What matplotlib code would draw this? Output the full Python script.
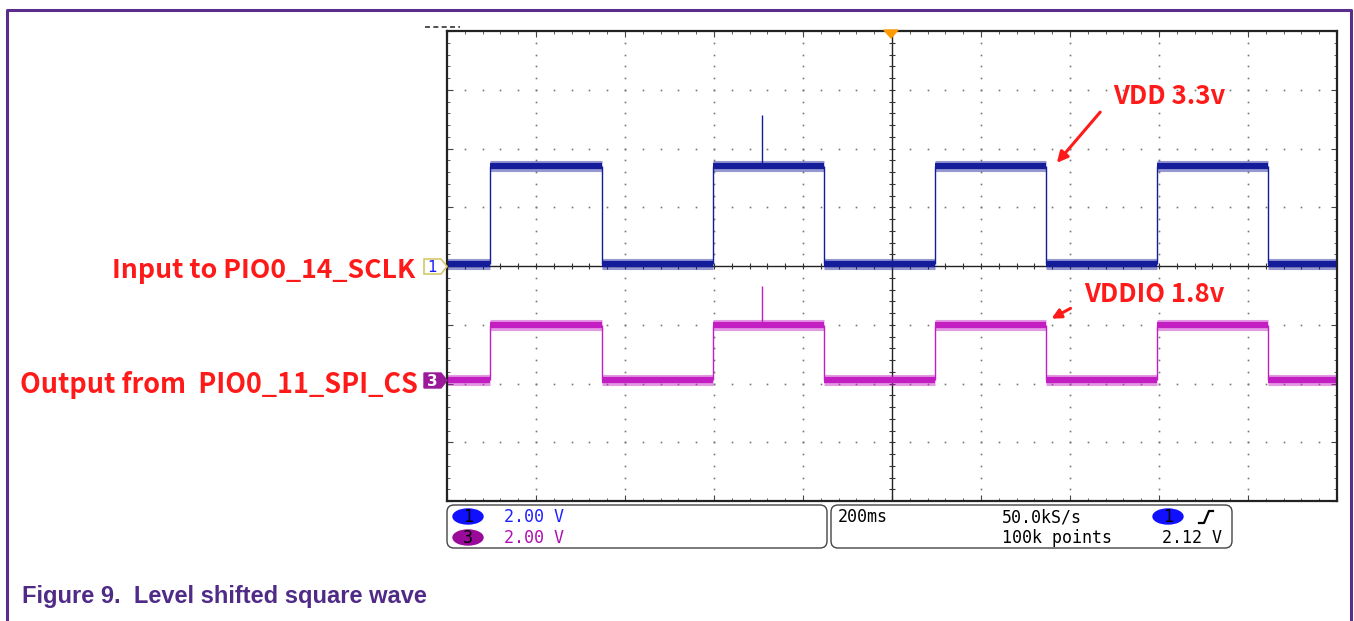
import numpy as np
import matplotlib.pyplot as plt
from matplotlib.patches import FancyBboxPatch, Polygon, Ellipse

# scope settings (time in s, vertical in divisions, 2 V/div)
volts_per_div = 2.0
time_per_div = 0.2

# channel 1: input SCLK (3.3 V), channel 3: output SPI_CS (1.8 V)
rise_times = [-0.903, -0.402, 0.097, 0.596]
fall_times = [-0.652, -0.153, 0.346, 0.845]
ch1_low, ch1_high = 0.08, 3.40
ch3_low, ch3_high = 0.0, 1.87
ch1_offset = 0.0      # divisions
ch3_offset = -1.94
spike_time = -0.292
ch1_spike = 5.15
ch3_spike = 3.20

blue = '#141c9a'
magenta = '#c21ec2'
purple = '#5a2d8c'

fig = plt.figure(figsize=(13.54, 6.21), dpi=100)
W, H = 1354, 621
ax = fig.add_axes([447 / W, (H - 501) / H, 890 / W, 470 / H])
ax.set_xlim(-1, 1)
ax.set_ylim(-4, 4)

# frame ticks
ax.set_xticks(np.arange(-1, 1.01, time_per_div))
ax.set_xticks(np.arange(-1, 1.01, time_per_div / 5), minor=True)
ax.set_yticks(np.arange(-4, 4.01, 1))
ax.set_yticks(np.arange(-4, 4.01, 0.2), minor=True)
ax.tick_params(which='both', direction='in', top=True, right=True,
               labelbottom=False, labelleft=False, color='#444444')
ax.tick_params(which='major', length=4, width=0.8)
ax.tick_params(which='minor', length=2.5, width=0.6)
for s in ax.spines.values():
    s.set_linewidth(1.6)
    s.set_color('#222222')

# dotted graticule
minor_x = np.arange(-1, 1.001, time_per_div / 5)
minor_y = np.arange(-4, 4.001, 0.2)
for xd in np.arange(-0.8, 0.81, time_per_div):
    if abs(xd) > 1e-6:
        ax.plot(np.full_like(minor_y, xd), minor_y, ls='none', marker='s',
                ms=1.2, color='#777777', mew=0)
for yd in range(-3, 4):
    if yd != 0:
        ax.plot(minor_x, np.full_like(minor_x, yd), ls='none', marker='s',
                ms=1.2, color='#777777', mew=0)
# center crosshair
ax.axvline(0, color='#222222', lw=1.0)
ax.axhline(0, color='#222222', lw=1.0)
ax.plot(minor_x, np.zeros_like(minor_x), ls='none', marker='|', ms=5, color='#333333', mew=0.8)
ax.plot(np.zeros_like(minor_y), minor_y, ls='none', marker='_', ms=5, color='#333333', mew=0.8)


def draw_channel(low, high, offset, color, spike):
    lo = low / volts_per_div + offset
    hi = high / volts_per_div + offset
    starts = [-1.0] + list(fall_times)
    ends = list(rise_times) + [1.0]
    for a, b in zip(starts, ends):
        ax.hlines(lo, a, b, color=color, lw=8, alpha=0.45)
        ax.hlines(lo, a, b, color=color, lw=4.5)
    for a, b in zip(rise_times, fall_times):
        ax.hlines(hi, a, b, color=color, lw=8, alpha=0.45)
        ax.hlines(hi, a, b, color=color, lw=4.5)
    ax.vlines(rise_times, lo, hi, color=color, lw=1.0)
    ax.vlines(fall_times, lo, hi, color=color, lw=1.0)
    ax.vlines(spike_time, hi, spike / volts_per_div + offset, color=color, lw=1.0)


draw_channel(ch1_low, ch1_high, ch1_offset, blue, ch1_spike)
draw_channel(ch3_low, ch3_high, ch3_offset, magenta, ch3_spike)

# overlay in pixel coordinates for annotations
ov = fig.add_axes([0, 0, 1, 1])
ov.set_xlim(0, W)
ov.set_ylim(H, 0)
ov.axis('off')
ov.patch.set_alpha(0)

# page border
ov.plot([7, 7, 1351, 1351], [621, 10, 10, 621], color=purple, lw=2.2)

# trigger position marker and top-left dashes
ov.add_patch(Polygon([[884, 30], [898, 30], [891, 38]], closed=True, color='#ff9a00'))
ov.plot([425, 460], [27, 27], color='#333333', lw=1.2, ls=(0, (3, 2)))

# channel ground markers
ov.add_patch(Polygon([[424, 259], [441, 259], [447, 266.5], [441, 274], [424, 274]],
                     closed=True, fc='white', ec='#d6c86a', lw=1.2))
ov.text(432, 267, '1', color='#1a1aff', fontsize=11, ha='center', va='center')
ov.add_patch(Polygon([[424, 373], [441, 373], [447, 380.5], [441, 388], [424, 388]],
                     closed=True, fc='#9a1a9a', ec='#9a1a9a', lw=1.0))
ov.text(432, 381, '3', color='white', fontsize=11, ha='center', va='center', weight='bold')

# red annotations
lab_font = dict(family=['Noto Sans CJK SC', 'DejaVu Sans'], weight='bold', color='#ff1a1a')
ov.text(415, 270, 'Input to PIO0_14_SCLK', ha='right', va='center', fontsize=19.2, **lab_font)
ov.text(418, 385, 'Output from  PIO0_11_SPI_CS', ha='right', va='center', fontsize=19.4, **lab_font)
ov.text(1113, 97, 'VDD 3.3v', ha='left', va='center', fontsize=18.5, **lab_font)
ov.text(1084, 294, 'VDDIO 1.8v', ha='left', va='center', fontsize=18.5, **lab_font)
ov.annotate('', xy=(1055, 165), xytext=(1102, 110),
            arrowprops=dict(arrowstyle='-|>', color='#ff1a1a', lw=2.2, mutation_scale=16))
ov.annotate('', xy=(1049, 320), xytext=(1073, 307),
            arrowprops=dict(arrowstyle='-|>', color='#ff1a1a', lw=2.2, mutation_scale=14))

# info boxes
for x0, x1 in [(447, 827), (831, 1232)]:
    ov.add_patch(FancyBboxPatch((x0, 505), x1 - x0, 43,
                                boxstyle='round,pad=0,rounding_size=7',
                                fc='white', ec='#444444', lw=1.0))
mono = dict(family='DejaVu Sans Mono', fontsize=12, va='center')
ov.add_patch(Ellipse((468, 516.5), 30, 15, color='#1010ff'))
ov.text(468, 517, '1', color='black', ha='center', **mono)
ov.add_patch(Ellipse((468, 537.5), 30, 15, color='#9a0a9a'))
ov.text(468, 538, '3', color='black', ha='center', **mono)
ov.text(504, 517, '2.00 V', color='#2020ff', **mono)
ov.text(504, 538, '2.00 V', color='#b010b0', **mono)
ov.text(838, 517, '200ms', color='black', **mono)
ov.text(1002, 517, '50.0kS/s', color='black', **mono)
ov.text(1002, 538, '100k points', color='black', **mono)
ov.add_patch(Ellipse((1168, 516.5), 30, 15, color='#1010ff'))
ov.text(1168, 517, '1', color='black', ha='center', **mono)
ov.plot([1199, 1204, 1209, 1213], [523, 523, 511, 511], color='black', lw=1.6)
ov.text(1222, 538, '2.12 V', color='black', ha='right', **mono)

# caption
ov.text(22, 596, 'Figure 9.  Level shifted square wave', color='#4f2a86',
        fontsize=17, weight='bold', family='Liberation Sans', va='center')

fig.savefig('out.png', dpi=100)
